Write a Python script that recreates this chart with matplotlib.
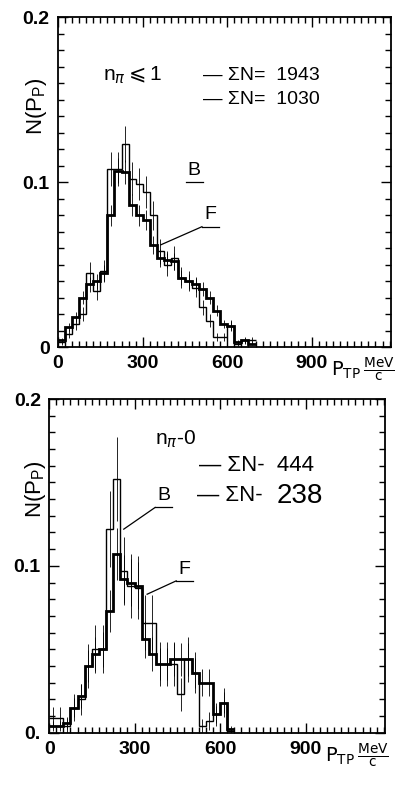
import numpy as np
import matplotlib
matplotlib.use('Agg')
import matplotlib.pyplot as plt
from matplotlib.ticker import MultipleLocator, FixedLocator, FixedFormatter

# P_TP spectra, 25 MeV/c bins starting at 0, normalised to unit area
bin_width = 25

# n_pi <= 1
top_f = [0.004, 0.012, 0.018, 0.030, 0.038, 0.040, 0.045, 0.080, 0.107, 0.106,
         0.086, 0.080, 0.077, 0.062, 0.054, 0.053, 0.052, 0.042, 0.040, 0.038,
         0.035, 0.030, 0.022, 0.014, 0.013, 0.003, 0.004, 0.002]
top_b = [0.003, 0.008, 0.014, 0.020, 0.045, 0.034, 0.046, 0.108, 0.108, 0.123,
         0.102, 0.099, 0.094, 0.080, 0.058, 0.050, 0.054, 0.042, 0.040, 0.036,
         0.024, 0.016, 0.006, 0.006, 0.013, 0.002, 0.004, 0.004]
top_n = [1943, 1030]

# n_pi = 0
bot_f = [0.004, 0.004, 0.006, 0.015, 0.022, 0.040, 0.047, 0.050, 0.073, 0.107,
         0.092, 0.090, 0.088, 0.056, 0.047, 0.041, 0.041, 0.044, 0.044, 0.044,
         0.036, 0.030, 0.030, 0.011, 0.018, 0.002]
bot_b = [0.009, 0.009, 0.004, 0.015, 0.020, 0.040, 0.050, 0.050, 0.122, 0.152,
         0.097, 0.088, 0.087, 0.066, 0.066, 0.041, 0.041, 0.041, 0.023, 0.044,
         0.036, 0.004, 0.007, 0.011, 0.018, 0.001]
bot_n = [444, 238]

x_ticks = [0, 300, 600, 900]
x_labels = ['0', '300', '600', '900']
y_ticks = [0, 0.1, 0.2]
top_ylabels = ['0', '0.1', '0.2']
bot_ylabels = ['0.', '0.1', '0.2']

plt.rcParams['font.family'] = ['Liberation Sans', 'DejaVu Sans']
plt.rcParams['mathtext.fontset'] = 'dejavusans'

fig = plt.figure(figsize=(4.06, 7.87), dpi=100)
ax1 = fig.add_axes([0.143, 0.559, 0.820, 0.419])
ax2 = fig.add_axes([0.121, 0.069, 0.828, 0.424])


def hist(ax, vals, n, lw):
    vals = np.asarray(vals)
    edges = np.arange(len(vals) + 1) * bin_width
    centers = edges[:-1] + bin_width / 2
    ax.stairs(vals, edges, color='black', lw=lw, baseline=None)
    # poisson errors from the number of entries
    err = np.sqrt(vals / n)
    ax.errorbar(centers, vals, yerr=err, fmt='none', ecolor='black',
                elinewidth=0.6, capsize=0)


def frame(ax, ylabels, ylab_x):
    ax.set_xlim(0, 1180)
    ax.set_ylim(0, 0.2)
    ax.xaxis.set_major_locator(FixedLocator(x_ticks))
    ax.xaxis.set_major_formatter(FixedFormatter(x_labels))
    ax.xaxis.set_minor_locator(MultipleLocator(25))
    ax.yaxis.set_major_locator(FixedLocator(y_ticks))
    ax.yaxis.set_major_formatter(FixedFormatter(ylabels))
    ax.yaxis.set_minor_locator(MultipleLocator(0.01))
    ax.tick_params(which='both', direction='in', top=True, right=True,
                   width=1.0)
    ax.tick_params(which='major', length=7, labelsize=14, pad=6)
    ax.tick_params(which='minor', length=4.5)
    for lab in ax.get_xticklabels() + ax.get_yticklabels():
        lab.set_fontweight('bold')
    for sp in ax.spines.values():
        sp.set_linewidth(1.3)
    ax.text(ylab_x, 0.73, r'N($\mathregular{P_P}$)', rotation=90,
            transform=ax.transAxes, ha='center', va='center', fontsize=16)
    ax.text(1.01, -0.025,
            r'$\mathrm{P}_{\mathrm{TP}}\,\frac{\mathrm{MeV}}{\mathrm{c}}$',
            transform=ax.transAxes, ha='right', va='top', fontsize=14)


def label(ax, txt, pos, target=None):
    # letter with a short underline, optionally a leader line to the curve
    ax.text(pos[0], pos[1], txt, fontsize=14, ha='center', va='bottom')
    x0, x1 = pos[0] - 30, pos[0] + 30
    ax.plot([x0, x1], [pos[1] - 0.002, pos[1] - 0.002], color='black', lw=0.9)
    if target is not None:
        ax.plot([x0, target[0]], [pos[1] - 0.002, target[1]], color='black',
                lw=0.9)


# upper panel
hist(ax1, top_b, top_n[1], 1.0)
hist(ax1, top_f, top_n[0], 2.0)
frame(ax1, top_ylabels, -0.065)
ax1.text(160, 0.165, r'n$_\pi$$\leqslant$1', fontsize=15, va='center')
ax1.text(515, 0.165, '\u2014 \u03a3N=  1943', fontsize=14, va='center')
ax1.text(515, 0.150, '\u2014 \u03a3N=  1030', fontsize=14, va='center')
label(ax1, 'B', (482, 0.102))
label(ax1, 'F', (540, 0.075), (364, 0.062))

# lower panel
hist(ax2, bot_b, bot_n[1], 1.0)
hist(ax2, bot_f, bot_n[0], 2.0)
frame(ax2, bot_ylabels, -0.04)
ax2.text(372, 0.176, r'n$_\pi$-0', fontsize=15, va='center')
ax2.text(525, 0.160, '\u2014 \u03a3N-  444', fontsize=16, va='center')
ax2.text(520, 0.142, '\u2014 \u03a3N-  ', fontsize=16, va='center')
ax2.text(800, 0.142, '238', fontsize=20, va='center')
label(ax2, 'B', (402, 0.137), (262, 0.122))
label(ax2, 'F', (476, 0.093), (344, 0.083))

fig.savefig('out.png', dpi=100)
